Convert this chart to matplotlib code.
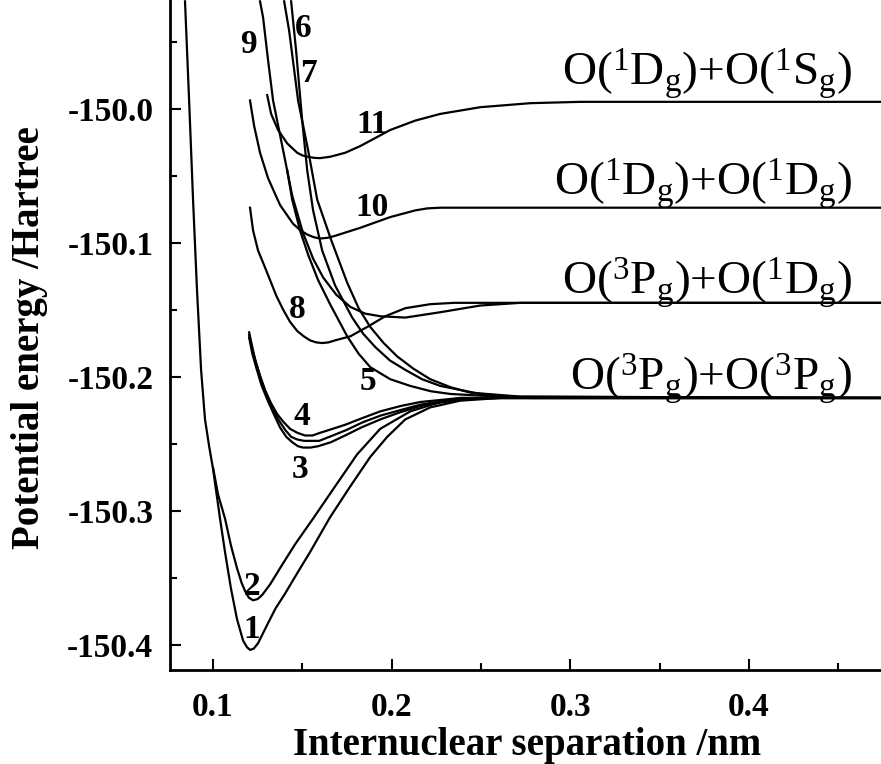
import matplotlib
matplotlib.use("Agg")
import matplotlib.pyplot as plt
from matplotlib.ticker import MultipleLocator, FuncFormatter

# potential energy curves of O2 (r in nm, E in Hartree)
r1 = [0.0843, 0.0866, 0.0888, 0.0910, 0.0933, 0.0955, 0.0978, 0.1000, 0.1039, 0.1067, 0.1100,
      0.1134, 0.1168, 0.1190, 0.1207, 0.1228, 0.1252, 0.1278, 0.1308, 0.1350, 0.1403, 0.1470,
      0.1543, 0.1655, 0.1768, 0.1880, 0.1975, 0.2076, 0.2216, 0.2384, 0.2608, 0.485]
e1 = [-149.920, -149.994, -150.068, -150.135, -150.195, -150.232, -150.252, -150.269, -150.306,
      -150.331, -150.358, -150.381, -150.397, -150.402, -150.404, -150.403, -150.399, -150.392,
      -150.384, -150.373, -150.362, -150.347, -150.331, -150.305, -150.282, -150.260, -150.245,
      -150.232, -150.223, -150.218, -150.216, -150.216]

r2 = [0.1000, 0.1028, 0.1067, 0.1100, 0.1134, 0.1160, 0.1179, 0.1200, 0.1224, 0.1250, 0.1275,
      0.1320, 0.1375, 0.1460, 0.1560, 0.1683, 0.1807, 0.1936, 0.2104, 0.2272, 0.2496, 0.485]
e2 = [-150.268, -150.288, -150.306, -150.326, -150.343, -150.354, -150.360, -150.365, -150.367,
      -150.366, -150.363, -150.355, -150.343, -150.325, -150.306, -150.282, -150.258, -150.239,
      -150.226, -150.219, -150.216, -150.216]

r3 = [0.1202, 0.1220, 0.1241, 0.1270, 0.1303, 0.1340, 0.1375, 0.1410, 0.1443, 0.1475, 0.1504,
      0.1545, 0.1588, 0.1660, 0.1739, 0.1830, 0.1936, 0.2040, 0.2160, 0.2384, 0.2608, 0.485]
e3 = [-150.171, -150.183, -150.193, -150.206, -150.217, -150.228, -150.238, -150.245, -150.249,
      -150.252, -150.253, -150.253, -150.252, -150.249, -150.244, -150.238, -150.232, -150.227,
      -150.222, -150.217, -150.216, -150.216]

r3b = [0.1202, 0.1220, 0.1241, 0.1268, 0.1297, 0.1333, 0.1370, 0.1405, 0.1437, 0.1472, 0.1510,
       0.1550, 0.1594, 0.1670, 0.1745, 0.1840, 0.1941, 0.2050, 0.2160, 0.2384, 0.485]
e3b = [-150.169, -150.180, -150.190, -150.202, -150.213, -150.224, -150.233, -150.240, -150.245,
       -150.247, -150.248, -150.248, -150.248, -150.244, -150.240, -150.234, -150.229, -150.225,
       -150.221, -150.216, -150.216]

r4 = [0.1202, 0.1218, 0.1235, 0.1262, 0.1291, 0.1325, 0.1359, 0.1395, 0.1431, 0.1472, 0.1515,
      0.1557, 0.1599, 0.1670, 0.1739, 0.1836, 0.1936, 0.2050, 0.2160, 0.2384, 0.485]
e4 = [-150.167, -150.177, -150.187, -150.199, -150.210, -150.220, -150.228, -150.234, -150.239,
      -150.242, -150.244, -150.244, -150.242, -150.239, -150.236, -150.231, -150.226, -150.222,
      -150.219, -150.216, -150.216]

r5 = [0.1415, 0.1443, 0.1487, 0.1532, 0.1588, 0.1655, 0.1751, 0.1815, 0.1880, 0.1992, 0.2104,
      0.2220, 0.2328, 0.2608, 0.485]
e5 = [-150.046, -150.068, -150.091, -150.109, -150.128, -150.146, -150.170, -150.183, -150.193,
      -150.202, -150.207, -150.211, -150.213, -150.215, -150.216]

r6 = [0.1398, 0.1426, 0.1476, 0.1532, 0.1583, 0.1661, 0.1751, 0.1815, 0.1880, 0.1955, 0.2031,
      0.2120, 0.2216, 0.2330, 0.2440, 0.2720, 0.485]
e6 = [-149.920, -149.942, -149.994, -150.031, -150.068, -150.098, -150.130, -150.149, -150.163,
      -150.175, -150.185, -150.194, -150.202, -150.208, -150.212, -150.215, -150.216]

r7 = [0.1437, 0.1465, 0.1499, 0.1527, 0.1560, 0.1611, 0.1683, 0.1779, 0.1840, 0.1908, 0.1990,
      0.2076, 0.2170, 0.2272, 0.2496, 0.2776, 0.485]
e7 = [-149.920, -149.957, -150.009, -150.046, -150.076, -150.106, -150.132, -150.156, -150.168,
      -150.178, -150.188, -150.195, -150.202, -150.207, -150.213, -150.216, -150.216]

r8 = [0.1207, 0.1224, 0.1252, 0.1286, 0.1319, 0.1355, 0.1392, 0.1430, 0.1471, 0.1508, 0.1543,
      0.1577, 0.1611, 0.1647, 0.1683, 0.1768, 0.1863, 0.1964, 0.2076, 0.2216, 0.2350, 0.485]
e8 = [-150.074, -150.091, -150.106, -150.117, -150.128, -150.140, -150.150, -150.159, -150.166,
      -150.170, -150.173, -150.1745, -150.175, -150.1745, -150.173, -150.170, -150.163, -150.155,
      -150.149, -150.146, -150.145, -150.145]

r9 = [0.1263, 0.1280, 0.1308, 0.1336, 0.1392, 0.1443, 0.1504, 0.1560, 0.1616, 0.1690, 0.1768,
      0.1850, 0.1936, 0.2076, 0.2272, 0.2496, 0.2720, 0.485]
e9 = [-149.920, -149.932, -149.964, -149.994, -150.031, -150.065, -150.093, -150.112, -150.126,
      -150.139, -150.148, -150.153, -150.155, -150.156, -150.152, -150.147, -150.145, -150.145]

r10 = [0.1207, 0.1230, 0.1263, 0.1308, 0.1375, 0.1448, 0.1490, 0.1527, 0.1563, 0.1599, 0.1640,
       0.1683, 0.1824, 0.1992, 0.2132, 0.2200, 0.2272, 0.485]
e10 = [-149.994, -150.013, -150.033, -150.052, -150.072, -150.086, -150.091, -150.094, -150.096,
       -150.097, -150.0965, -150.095, -150.089, -150.081, -150.076, -150.0745, -150.074, -150.074]

r11 = [0.1303, 0.1325, 0.1364, 0.1415, 0.1471, 0.1500, 0.1532, 0.1565, 0.1599, 0.1655, 0.1740,
       0.1824, 0.1992, 0.2132, 0.2272, 0.2496, 0.2776, 0.3056, 0.485]
e11 = [-149.990, -150.004, -150.016, -150.026, -150.033, -150.035, -150.036, -150.0368, -150.037,
       -150.036, -150.033, -150.028, -150.016, -150.009, -150.004, -149.999, -149.996, -149.995,
       -149.995]

# curve numbers
num_text = ["1", "2", "3", "4", "5", "6", "7", "8", "9", "10", "11"]
num_r = [0.1218, 0.1218, 0.1487, 0.1498, 0.1868, 0.1504, 0.1532, 0.1471, 0.1200, 0.1891, 0.1891]
num_e = [-150.389, -150.357, -150.269, -150.230, -150.204, -149.940, -149.974, -150.150,
         -149.952, -150.074, -150.012]

# dissociation limits
limit_text = [r"O($^{1}$D$_{g}$)+O($^{1}$S$_{g}$)",
              r"O($^{1}$D$_{g}$)+O($^{1}$D$_{g}$)",
              r"O($^{3}$P$_{g}$)+O($^{1}$D$_{g}$)",
              r"O($^{3}$P$_{g}$)+O($^{3}$P$_{g}$)"]
limit_e = [-149.983, -150.065, -150.139, -150.210]

plt.rcParams["font.family"] = ["Liberation Serif", "DejaVu Serif"]
plt.rcParams["mathtext.fontset"] = "custom"
plt.rcParams["mathtext.rm"] = "Liberation Serif"
plt.rcParams["mathtext.it"] = "Liberation Serif"
plt.rcParams["axes.unicode_minus"] = False

fig = plt.figure(figsize=(8.81, 7.64), dpi=100)
ax = fig.add_axes([170 / 881, 94 / 764, 711 / 881, 670 / 764])

curves = [(r1, e1), (r2, e2), (r3, e3), (r3b, e3b), (r4, e4), (r5, e5), (r6, e6),
          (r7, e7), (r8, e8), (r9, e9), (r10, e10), (r11, e11)]
for r, e in curves:
    ax.plot(r, e, color="black", lw=1.6, solid_joinstyle="round")

for t, x, y in zip(num_text, num_r, num_e):
    ax.text(x, y, t, fontsize=24, fontweight="bold", ha="center", va="center")

for t, y in zip(limit_text, limit_e):
    ax.text(0.4576, y, t, fontsize=34, ha="right", va="baseline")

ax.set_xlim(0.0759, 0.4739)
ax.set_ylim(-150.419, -149.919)

ax.xaxis.set_major_locator(MultipleLocator(0.1))
ax.xaxis.set_minor_locator(MultipleLocator(0.05))
ax.yaxis.set_major_locator(MultipleLocator(0.1))
ax.yaxis.set_minor_locator(MultipleLocator(0.05))
ax.xaxis.set_major_formatter(FuncFormatter(lambda v, p: f"{v:.1f}"))
ax.yaxis.set_major_formatter(FuncFormatter(lambda v, p: f"{v:.1f}"))

ax.tick_params(which="both", direction="in", width=1.5)
ax.tick_params(which="major", length=8, labelsize=24)
ax.tick_params(axis="x", which="major", pad=16)
ax.tick_params(axis="y", which="major", pad=12)
ax.tick_params(which="minor", length=5)
for lab in ax.get_xticklabels() + ax.get_yticklabels():
    lab.set_fontweight("bold")

ax.spines["top"].set_visible(False)
ax.spines["right"].set_visible(False)
ax.spines["left"].set_linewidth(2)
ax.spines["bottom"].set_linewidth(2)

fig.text(527 / 881, 1 - 745 / 764, "Internuclear separation /nm", fontsize=28,
         fontweight="bold", ha="center", va="center")
fig.text(30 / 881, 1 - 338 / 764, "Potential energy /Hartree", fontsize=28,
         fontweight="bold", ha="center", va="center", rotation=90)

fig.savefig("out.png", dpi=100)
